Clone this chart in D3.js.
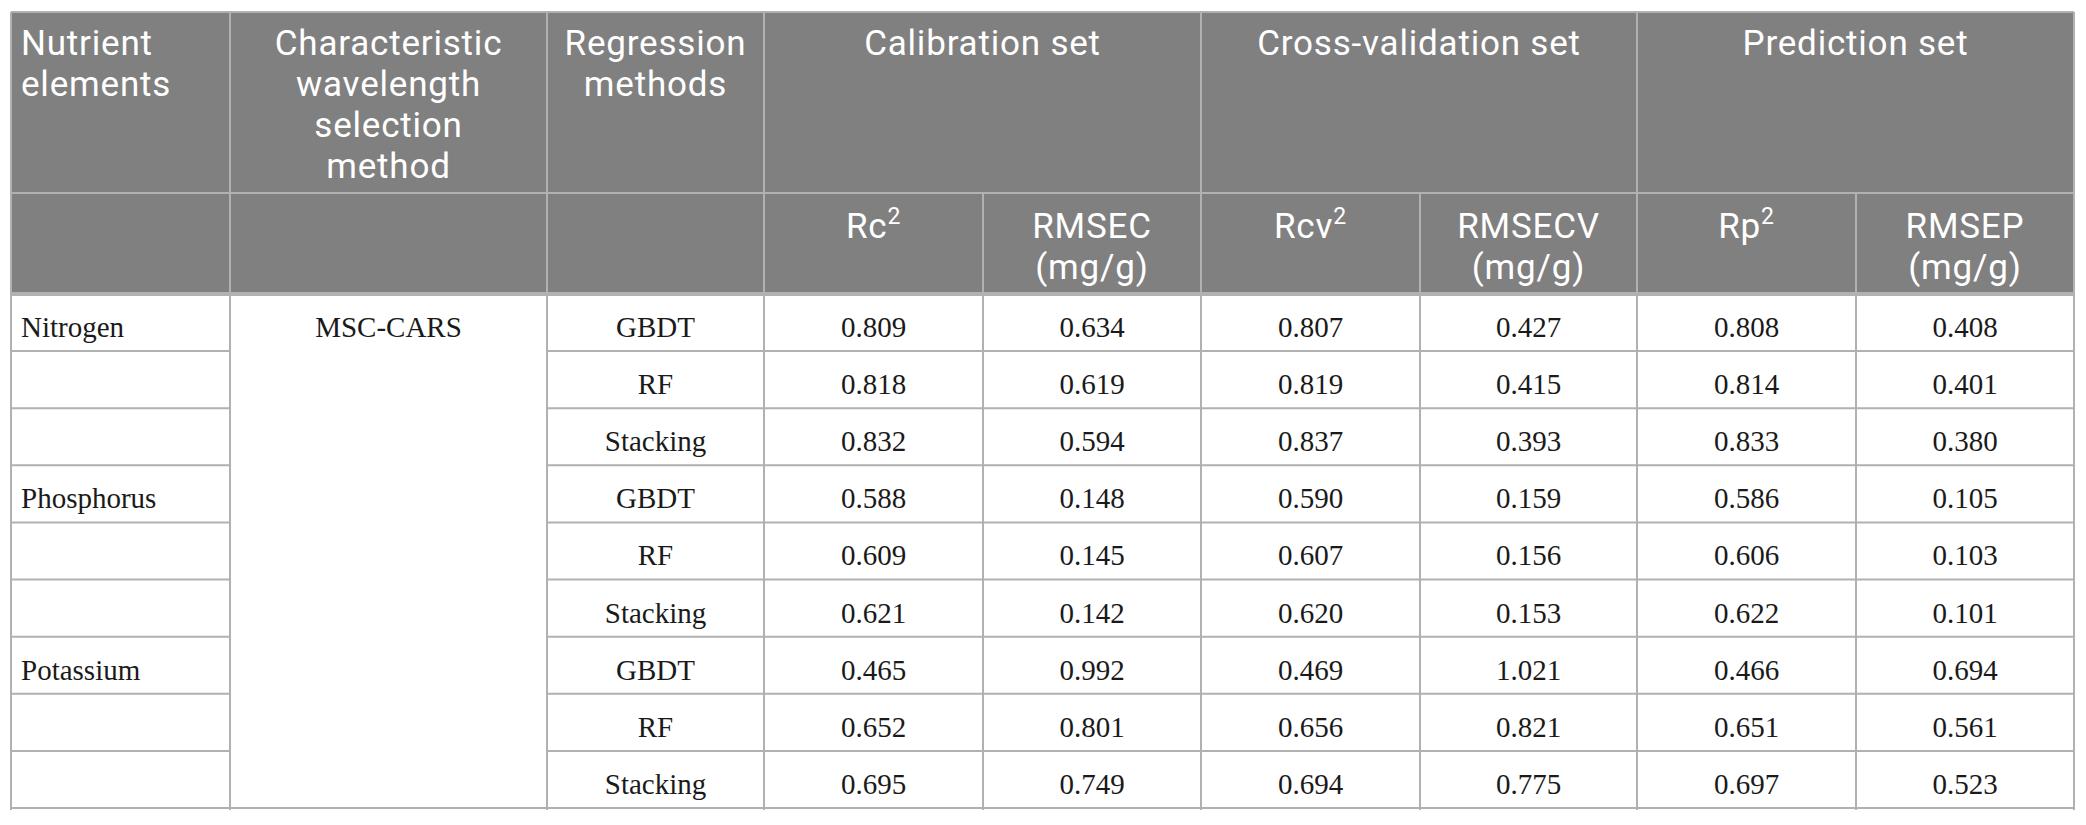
<!DOCTYPE html>
<html lang="en">
<head>
    <meta charset="UTF-8">
    <title>Nutrient prediction results table</title>
    <script src="https://d3js.org/d3.v7.min.js"></script>
    <style>
        body { margin: 0; background: #fff; }
        .head { font-family: Roboto, sans-serif; font-size: 35px; letter-spacing: 0.8px; fill: #fff; }
        .cell { font-family: "Liberation Serif", serif; font-size: 29px; fill: #1a1a1a; }
        .grid { stroke: #b1b1b1; stroke-width: 2; }
    </style>
</head>
<body>
<div id="table"></div>
<script>
    // table content
    const nutrients = ["Nitrogen", "Phosphorus", "Potassium"];
    const selection = "MSC-CARS";
    const methods = ["GBDT", "RF", "Stacking"];
    const groupHeads = ["Calibration set", "Cross-validation set", "Prediction set"];
    const subHeads = [["Rc", "2"], ["RMSEC", "(mg/g)"], ["Rcv", "2"], ["RMSECV", "(mg/g)"], ["Rp", "2"], ["RMSEP", "(mg/g)"]];
    const rc2    = [0.809, 0.818, 0.832, 0.588, 0.609, 0.621, 0.465, 0.652, 0.695];
    const rmsec  = [0.634, 0.619, 0.594, 0.148, 0.145, 0.142, 0.992, 0.801, 0.749];
    const rcv2   = [0.807, 0.819, 0.837, 0.590, 0.607, 0.620, 0.469, 0.656, 0.694];
    const rmsecv = [0.427, 0.415, 0.393, 0.159, 0.156, 0.153, 1.021, 0.821, 0.775];
    const rp2    = [0.808, 0.814, 0.833, 0.586, 0.606, 0.622, 0.466, 0.651, 0.697];
    const rmsep  = [0.408, 0.401, 0.380, 0.105, 0.103, 0.101, 0.694, 0.561, 0.523];

    const width = 2086, height = 825;
    const x0 = 11, y0 = 12, head1 = 193, head2 = 294, yEnd = 808;
    const colW = [219, 317, 217, 219, 218, 219, 217, 219, 218];

    const svg = d3.select("#table").append("svg")
        .attr("width", width)
        .attr("height", height);

    // column edges
    const edges = [x0, ...d3.cumsum(colW).map(d => x0 + d)];
    const x1 = edges[edges.length - 1];
    const mid = i => (edges[i] + edges[i + 1]) / 2;

    const nRows = nutrients.length * methods.length;
    const y = d3.scaleBand().domain(d3.range(nRows)).range([head2, yEnd]);

    // rows built from the arrays
    const cols = [rc2, rmsec, rcv2, rmsecv, rp2, rmsep];
    const rows = d3.range(nRows).map(i => ({
        nutrient: i % methods.length == 0 ? nutrients[i / methods.length] : "",
        method: methods[i % methods.length],
        values: cols.map(c => c[i])
    }));

    // header background
    svg.append("rect")
        .attr("x", x0).attr("y", y0)
        .attr("width", x1 - x0).attr("height", head2 - y0)
        .attr("fill", "#808080");

    // grid lines
    const g = svg.append("g").attr("class", "grid");
    g.append("line").attr("x1", x0).attr("x2", x1).attr("y1", y0).attr("y2", y0);
    g.append("line").attr("x1", x0).attr("x2", x1).attr("y1", head1).attr("y2", head1);
    g.append("line").attr("x1", x0).attr("x2", x1).attr("y1", head2).attr("y2", head2)
        .style("stroke-width", 4);
    // vertical lines; sub-columns split only below first header row
    edges.forEach((x, i) => {
        const split = i == 4 || i == 6 || i == 8;
        g.append("line").attr("x1", x).attr("x2", x)
            .attr("y1", split ? head1 : y0).attr("y2", yEnd + 2);
    });
    // row separators (selection column is one merged cell)
    y.domain().forEach(i => {
        const yy = y(i) + y.bandwidth();
        const last = i == nRows - 1;
        g.append("line").attr("x1", x0).attr("x2", last ? x1 : edges[1]).attr("y1", yy).attr("y2", yy);
        if (!last) g.append("line").attr("x1", edges[2]).attr("x2", x1).attr("y1", yy).attr("y2", yy);
    });

    // header texts
    const head = svg.append("g").attr("class", "head");
    const lineH = 41;
    const multi = (x, lines, anchor, yb) => {
        const t = head.append("text").attr("text-anchor", anchor);
        lines.forEach((s, k) => t.append("tspan").attr("x", x).attr("y", yb + k * lineH).text(s));
    };
    multi(x0 + 10, ["Nutrient", "elements"], "start", y0 + 43);
    multi(mid(1), ["Characteristic", "wavelength", "selection", "method"], "middle", y0 + 43);
    multi(mid(2), ["Regression", "methods"], "middle", y0 + 43);
    groupHeads.forEach((s, k) => {
        const a = 3 + k * 2;
        head.append("text").attr("text-anchor", "middle")
            .attr("x", (edges[a] + edges[a + 2]) / 2).attr("y", y0 + 43).text(s);
    });
    subHeads.forEach((s, k) => {
        const x = mid(3 + k);
        if (s[1] == "2") {
            const t = head.append("text").attr("text-anchor", "middle").attr("x", x).attr("y", head1 + 45);
            t.append("tspan").text(s[0]);
            t.append("tspan").attr("dy", -14).style("font-size", "23px").text(s[1]);
        } else {
            multi(x, s, "middle", head1 + 45);
        }
    });

    // body texts
    const body = svg.append("g").attr("class", "cell");
    const base = i => y(i) + 43;
    body.selectAll(".nut").data(rows).enter().append("text")
        .attr("x", x0 + 10).attr("y", (d, i) => base(i)).text(d => d.nutrient);
    body.append("text").attr("text-anchor", "middle")
        .attr("x", mid(1)).attr("y", base(0)).text(selection);
    body.selectAll(".met").data(rows).enter().append("text")
        .attr("text-anchor", "middle")
        .attr("x", mid(2)).attr("y", (d, i) => base(i)).text(d => d.method);
    const fmt = d3.format(".3f");
    rows.forEach((r, i) => {
        body.selectAll(null).data(r.values).enter().append("text")
            .attr("text-anchor", "middle")
            .attr("x", (d, k) => mid(3 + k)).attr("y", base(i)).text(d => fmt(d));
    });
</script>
</body>
</html>
